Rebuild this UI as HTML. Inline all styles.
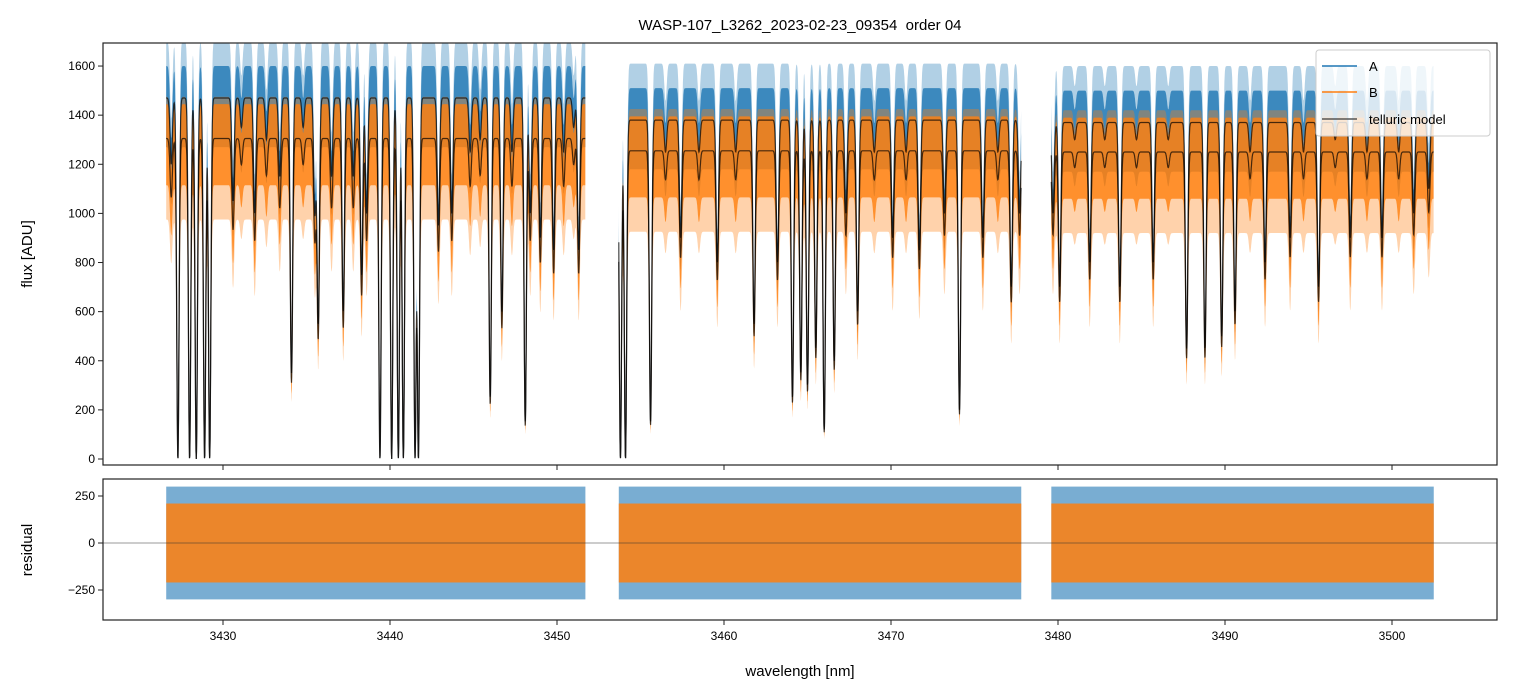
<!DOCTYPE html>
<html><head><meta charset="utf-8"><style>
body{margin:0;background:#fff;}
svg{display:block;font-family:"Liberation Sans","DejaVu Sans",sans-serif;}
</style></head><body>
<svg id="chart" width="1513" height="696" xmlns="http://www.w3.org/2000/svg">
<rect width="1513" height="696" fill="#fff"/>
<text x="800" y="30" font-size="15" text-anchor="middle" xml:space="preserve">WASP-107_L3262_2023-02-23_09354  order 04</text>
<defs>
<clipPath id="cm"><rect x="103" y="43" width="1394" height="422"/></clipPath>
<clipPath id="cr"><rect x="103" y="479" width="1394" height="141"/></clipPath>
</defs>
<g id="main"></g>
<g id="resid"></g>
<g id="axes"></g>
<g>
<rect x="1316" y="50" width="174" height="86" rx="3" fill="#fff" fill-opacity="0.8" stroke="#ccc"/>
<line x1="1322" y1="66" x2="1357" y2="66" stroke="#1f77b4" stroke-width="1.5"/>
<text x="1369" y="71" font-size="13">A</text>
<line x1="1322" y1="92" x2="1357" y2="92" stroke="#ff7f0e" stroke-width="1.5"/>
<text x="1369" y="97" font-size="13">B</text>
<line x1="1322" y1="119" x2="1357" y2="119" stroke="#555" stroke-width="1.5"/>
<text x="1369" y="124" font-size="13">telluric model</text>
</g>
<text transform="translate(32,254) rotate(-90)" font-size="15" text-anchor="middle">flux [ADU]</text>
<text transform="translate(32,550) rotate(-90)" font-size="15" text-anchor="middle">residual</text>
<text x="800" y="676" font-size="15" text-anchor="middle">wavelength [nm]</text>
</svg>
<script>
const segStart=[3426.6,3453.7,3479.6];
const segEnd=[3451.7,3477.8,3502.5];
const contA=[1470,1380,1370];
const contB=[1305,1255,1250];
const lineCenters=[3426.9,3427.3,3428.0,3428.4,3428.9,3429.2,3430.6,3431.1,3431.9,3432.6,3433.4,3434.1,3434.8,3435.5,3435.7,3436.5,3437.2,3437.8,3438.3,3438.6,3439.4,3440.1,3440.5,3440.8,3441.5,3441.7,3442.9,3443.7,3444.8,3445.4,3446.0,3446.7,3447.3,3448.1,3448.4,3449.0,3449.8,3450.4,3451.0,3451.3,
3453.8,3454.1,3455.6,3456.5,3457.4,3458.5,3459.6,3460.7,3461.8,3463.2,3464.1,3464.6,3465.0,3465.5,3466.0,3466.6,3467.3,3468.0,3469.0,3470.1,3470.9,3471.7,3473.2,3474.1,3475.5,3476.4,3477.2,3477.7,
3479.7,3480.1,3481.0,3481.9,3482.8,3483.7,3484.7,3485.7,3486.6,3487.7,3488.8,3489.8,3490.6,3491.5,3492.4,3493.9,3494.7,3495.6,3496.6,3497.5,3498.5,3499.4,3500.4,3501.3,3502.2];
const lineMinFlux=[1200,0,0,0,0,0,1050,1350,1000,1300,1150,350,1350,1000,550,1150,600,1150,750,1000,0,0,0,0,0,0,950,1000,1250,1300,250,600,1250,150,1000,900,850,1250,1350,850,
0,0,150,1250,900,1250,800,1250,550,800,250,350,300,450,120,400,1000,600,1250,900,1250,850,1000,200,900,1250,700,1000,
1000,700,1300,800,1300,700,1300,800,1300,450,450,500,600,1250,800,900,1250,700,1300,900,1250,900,1250,1000,1100];
const xTicks=[3430,3440,3450,3460,3470,3480,3490,3500];
const yTicks=[0,200,400,600,800,1000,1200,1400,1600];
const rTicks=[-250,0,250];
const rBandA=[300,300,300];
const rBandB=[210,210,210];

const NS="http://www.w3.org/2000/svg";
const X=w=>223+(w-3430)*16.7;
const Y=f=>459-f*0.2456;
const R=r=>543-r*0.188;
function mk(tag,attrs,parent){const e=document.createElementNS(NS,tag);for(const k in attrs)e.setAttribute(k,attrs[k]);parent.appendChild(e);return e;}
const main=document.getElementById('main'),resid=document.getElementById('resid'),axes=document.getElementById('axes');
const gm=mk('g',{'clip-path':'url(#cm)'},main);
const gr=mk('g',{'clip-path':'url(#cr)'},resid);
const sig=0.07;
function trans(w,s){let t=1;for(let i=0;i<lineCenters.length;i++){const c=lineCenters[i];if(Math.abs(w-c)>0.5)continue;const d=Math.max(0,1-lineMinFlux[i]/contA[s]);t*=1-d*Math.exp(-0.5*((w-c)/sig)**2);}return t;}
for(let s=0;s<segStart.length;s++){
  const ws=[];for(let w=segStart[s];w<=segEnd[s]+1e-9;w+=0.015)ws.push(w);
  const tr=ws.map(w=>trans(w,s));
  const poly=(up,lo)=>{let p=ws.map((w,i)=>X(w).toFixed(1)+','+Y(up(i)).toFixed(1));for(let i=ws.length-1;i>=0;i--)p.push(X(ws[i]).toFixed(1)+','+Y(lo(i)).toFixed(1));return p.join(' ');};
  const a0=mk('polygon',{points:poly(i=>contA[s]*tr[i]+230*tr[i],i=>contA[s]*tr[i]-200*tr[i]),fill:'#1f77b4','fill-opacity':0.35},gm);
  
  
  const a=mk('polygon',{points:poly(i=>contA[s]*tr[i]+130*tr[i],i=>contA[s]*tr[i]-200*tr[i]),fill:'#1f77b4','fill-opacity':0.8},gm);
  
  
  const b0=mk('polygon',{points:poly(i=>contB[s]*tr[i]+170*tr[i],i=>contB[s]*tr[i]-330*tr[i]),fill:'#ff7f0e','fill-opacity':0.35},gm);
  
  
  const b=mk('polygon',{points:poly(i=>contB[s]*tr[i]+140*tr[i],i=>contB[s]*tr[i]-190*tr[i]),fill:'#ff7f0e','fill-opacity':0.8},gm);
  
  
  const la=mk('polyline',{points:ws.map((w,i)=>X(w).toFixed(1)+','+Y(contA[s]*tr[i]).toFixed(1)).join(' '),fill:'none',stroke:'#000','stroke-opacity':0.7,'stroke-width':1.2},gm);
  
  
  const lb=mk('polyline',{points:ws.map((w,i)=>X(w).toFixed(1)+','+Y(contB[s]*tr[i]).toFixed(1)).join(' '),fill:'none',stroke:'#000','stroke-opacity':0.7,'stroke-width':1.2},gm);
  
  
  const x0=X(segStart[s]),x1=X(segEnd[s]);
  const ra=mk('rect',{x:x0,y:R(rBandA[s]),width:x1-x0,height:R(-rBandA[s])-R(rBandA[s]),fill:'#1f77b4','fill-opacity':0.6},gr);
  
  
  const rb=mk('rect',{x:x0,y:R(rBandB[s]),width:x1-x0,height:R(-rBandB[s])-R(rBandB[s]),fill:'#ff7f0e','fill-opacity':0.85},gr);
  
  
}
mk('line',{x1:103,x2:1497,y1:R(0),y2:R(0),stroke:'#333','stroke-width':0.6},gr);
mk('rect',{x:103,y:43,width:1394,height:422,fill:'none',stroke:'#222','stroke-width':1.2},axes);
mk('rect',{x:103,y:479,width:1394,height:141,fill:'none',stroke:'#222','stroke-width':1.2},axes);
xTicks.forEach(t=>{const x=X(t);
  mk('line',{x1:x,x2:x,y1:465,y2:470,stroke:'#222'},axes);
  mk('line',{x1:x,x2:x,y1:620,y2:625,stroke:'#222'},axes);
  const e=mk('text',{x:x,y:640,'font-size':12,'text-anchor':'middle'},axes);e.textContent=t;
  
  
});
yTicks.forEach(t=>{const y=Y(t);
  mk('line',{x1:98,x2:103,y1:y,y2:y,stroke:'#222'},axes);
  const e=mk('text',{x:95,y:y+4,'font-size':12,'text-anchor':'end'},axes);e.textContent=t;
  
  
});
rTicks.forEach(t=>{const y=R(t);
  mk('line',{x1:98,x2:103,y1:y,y2:y,stroke:'#222'},axes);
  const e=mk('text',{x:95,y:y+4,'font-size':12,'text-anchor':'end'},axes);e.textContent=t===-250?'\u2212250':t;
  
  
});
</script>
</body></html>
